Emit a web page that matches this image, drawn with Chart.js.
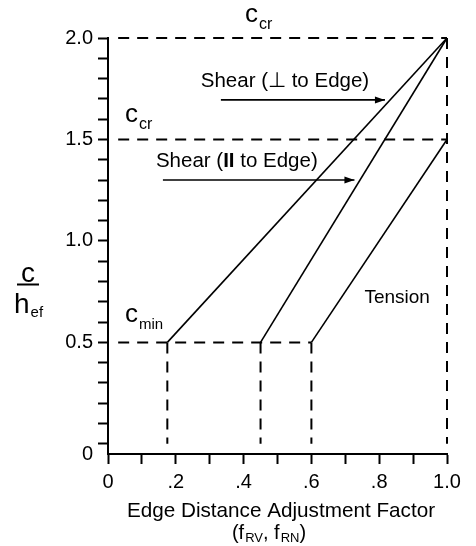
<!DOCTYPE html>
<html>
<head>
<meta charset="utf-8">
<script src="https://cdn.jsdelivr.net/npm/chart.js@4.4.1/dist/chart.umd.min.js"></script>
<style>
  html, body { margin: 0; padding: 0; background: #fff; }
  #wrap { width: 476px; height: 546px; }
</style>
</head>
<body>
<div id="wrap"><canvas id="chart" width="476" height="546"></canvas></div>
<script>
// c/hef against edge distance adjustment factor
const shearPerpX = [0.175, 1.0];
const shearPerpY = [0.5, 2.0];
const shearParX = [0.45, 1.0];
const shearParY = [0.5, 2.0];
const tensionX = [0.6, 1.0];
const tensionY = [0.5, 1.5];

// dashed guide lines
const ccrTopX = [0.03, 1.0];
const ccrTopY = [2.0, 2.0];
const ccrMidX = [0.03, 1.0];
const ccrMidY = [1.5, 1.5];
const cminX = [0.03, 0.6];
const cminY = [0.5, 0.5];
const edgeX = [1.0, 1.0];
const edgeY = [2.0, 0];
const dropPerpX = [0.175, 0.175];
const dropParX = [0.45, 0.45];
const dropTenX = [0.6, 0.6];
const dropY = [0.5, 0];

// label arrows
const arrowPerpX = [0.333, 0.817];
const arrowPerpY = [1.695, 1.695];
const arrowParX = [0.162, 0.727];
const arrowParY = [1.30, 1.30];

// ticks
const xTickValues = [0, 0.1, 0.2, 0.3, 0.4, 0.5, 0.6, 0.7, 0.8, 0.9, 1.0];
const xTickLabels = ['0', '', '.2', '', '.4', '', '.6', '', '.8', '', '1.0'];
const yTickValues = [-0.05, 0, 0.1, 0.2, 0.3, 0.4, 0.5, 0.6, 0.7, 0.8, 0.9, 1.0,
  1.1, 1.2, 1.3, 1.4, 1.5, 1.6, 1.7, 1.8, 1.9, 2.0];
const yTickLabels = ['0', '', '', '', '', '', '0.5', '', '', '', '', '1.0',
  '', '', '', '', '1.5', '', '', '', '', '2.0'];

const FONT = '"Liberation Sans", Arial, Helvetica, sans-serif';

const pts = (xs, ys) => xs.map((x, i) => ({ x: x, y: ys[i] }));

function line(data, dashed, arrow) {
  return {
    data: data,
    borderColor: '#000',
    backgroundColor: '#000',
    borderWidth: dashed ? 2 : 1.6,
    borderDash: dashed ? [11, 8] : [],
    pointRadius: 0,
    fill: false,
    tension: 0,
    clip: false,
    arrow: !!arrow
  };
}

function subText(ctx, x, y, main, sub, mainPx, subPx, drop) {
  ctx.font = mainPx + 'px ' + FONT;
  ctx.fillText(main, x, y);
  const w = ctx.measureText(main).width;
  ctx.font = subPx + 'px ' + FONT;
  ctx.fillText(sub, x + w + 1, y + drop);
  return x + w + 1 + ctx.measureText(sub).width;
}

const notes = {
  id: 'notes',
  afterDatasetsDraw(chart) {
    const ctx = chart.ctx;
    const px = v => chart.scales.x.getPixelForValue(v);
    const py = v => chart.scales.y.getPixelForValue(v);
    ctx.save();
    ctx.fillStyle = '#000';
    ctx.strokeStyle = '#000';
    ctx.textBaseline = 'alphabetic';

    // arrow heads on the label arrows
    chart.data.datasets.forEach((ds, i) => {
      if (!ds.arrow) return;
      const els = chart.getDatasetMeta(i).data;
      const a = els[els.length - 2], b = els[els.length - 1];
      const ang = Math.atan2(b.y - a.y, b.x - a.x);
      ctx.save();
      ctx.translate(b.x, b.y);
      ctx.rotate(ang);
      ctx.beginPath();
      ctx.moveTo(0, 0);
      ctx.lineTo(-10, -3.5);
      ctx.lineTo(-10, 3.5);
      ctx.closePath();
      ctx.fill();
      ctx.restore();
    });

    // curve labels
    ctx.textAlign = 'center';
    ctx.font = '20.5px ' + FONT;
    ctx.fillText('Shear (\u22A5 to Edge)', px(0.522), py(1.759));
    ctx.font = '19px ' + FONT;
    ctx.fillText('Tension', px(0.853), py(0.695));

    // "Shear (II to Edge)" with bold II
    ctx.textAlign = 'left';
    const parts = [['Shear (', '20.5px '], ['II', 'bold 20.5px '], [' to Edge)', '20.5px ']];
    let total = 0;
    parts.forEach(p => { ctx.font = p[1] + FONT; total += ctx.measureText(p[0]).width; });
    let x0 = px(0.38) - total / 2;
    parts.forEach(p => {
      ctx.font = p[1] + FONT;
      ctx.fillText(p[0], x0, py(1.365));
      x0 += ctx.measureText(p[0]).width;
    });

    // c labels
    subText(ctx, px(0.404), py(2.079), 'c', 'cr', 26, 16, 7);
    subText(ctx, px(0.05), py(1.586), 'c', 'cr', 26, 16, 7);
    subText(ctx, px(0.05), py(0.601), 'c', 'min', 26, 15, 7);

    // y title as a fraction c / hef
    ctx.textAlign = 'center';
    ctx.font = '28px ' + FONT;
    ctx.fillText('c', 28, 282);
    ctx.fillRect(17, 283.5, 22, 2);
    ctx.textAlign = 'left';
    subText(ctx, 14, 313, 'h', 'ef', 28, 15, 4);

    // x title, two lines
    ctx.textAlign = 'center';
    ctx.font = '20.7px ' + FONT;
    ctx.fillText('Edge Distance Adjustment Factor', 281, 517);
    ctx.textAlign = 'left';
    const segs = [['(', ''], ['f', 'RV'], [', ', ''], ['f', 'RN'], [')', '']];
    let w2 = 0;
    segs.forEach(s => {
      ctx.font = '20px ' + FONT; w2 += ctx.measureText(s[0]).width;
      if (s[1]) { ctx.font = '13px ' + FONT; w2 += ctx.measureText(s[1]).width + 1; }
    });
    let x1 = 269 - w2 / 2;
    segs.forEach(s => {
      if (s[1]) {
        x1 = subText(ctx, x1, 539, s[0], s[1], 20, 13, 3);
      } else {
        ctx.font = '20px ' + FONT;
        ctx.fillText(s[0], x1, 539);
        x1 += ctx.measureText(s[0]).width;
      }
    });
    ctx.restore();
  }
};

const axisGrid = {
  display: true,
  drawOnChartArea: false,
  drawTicks: true,
  tickLength: 10,
  tickWidth: 2,
  color: '#000'
};

new Chart(document.getElementById('chart'), {
  type: 'line',
  data: {
    datasets: [
      line(pts(shearPerpX, shearPerpY), false),
      line(pts(shearParX, shearParY), false),
      line(pts(tensionX, tensionY), false),
      line(pts(ccrTopX, ccrTopY), true),
      line(pts(ccrMidX, ccrMidY), true),
      line(pts(cminX, cminY), true),
      line(pts(edgeX, edgeY), true),
      line(pts(dropPerpX, dropY), true),
      line(pts(dropParX, dropY), true),
      line(pts(dropTenX, dropY), true),
      line(pts(arrowPerpX, arrowPerpY), false, true),
      line(pts(arrowParX, arrowParY), false, true)
    ]
  },
  options: {
    responsive: false,
    animation: false,
    events: [],
    layout: { padding: { top: 38, right: 29, left: 0, bottom: 0 } },
    plugins: { legend: { display: false }, tooltip: { enabled: false } },
    scales: {
      x: {
        type: 'linear',
        min: 0,
        max: 1,
        afterBuildTicks: s => { s.ticks = xTickValues.map(v => ({ value: v })); },
        afterFit: s => { s.height = 92; },
        ticks: {
          autoSkip: false,
          maxRotation: 0,
          padding: 6,
          color: '#000',
          font: { family: FONT, size: 20 },
          callback: v => xTickLabels[xTickValues.indexOf(v)]
        },
        grid: Object.assign({}, axisGrid, { tickColor: '#000' }),
        border: { display: true, color: '#000', width: 2 }
      },
      y: {
        type: 'linear',
        min: -0.05,
        max: 2.0,
        afterBuildTicks: s => { s.ticks = yTickValues.map(v => ({ value: v })); },
        afterFit: s => { s.width = 108; },
        ticks: {
          autoSkip: false,
          padding: 5,
          color: '#000',
          font: { family: FONT, size: 20 },
          callback: v => yTickLabels[yTickValues.indexOf(v)]
        },
        grid: Object.assign({}, axisGrid, {
          tickColor: c => (c.tick && c.tick.value < 0) ? 'rgba(0,0,0,0)' : '#000'
        }),
        border: { display: true, color: '#000', width: 2 }
      }
    }
  },
  plugins: [notes]
});
</script>
</body>
</html>
